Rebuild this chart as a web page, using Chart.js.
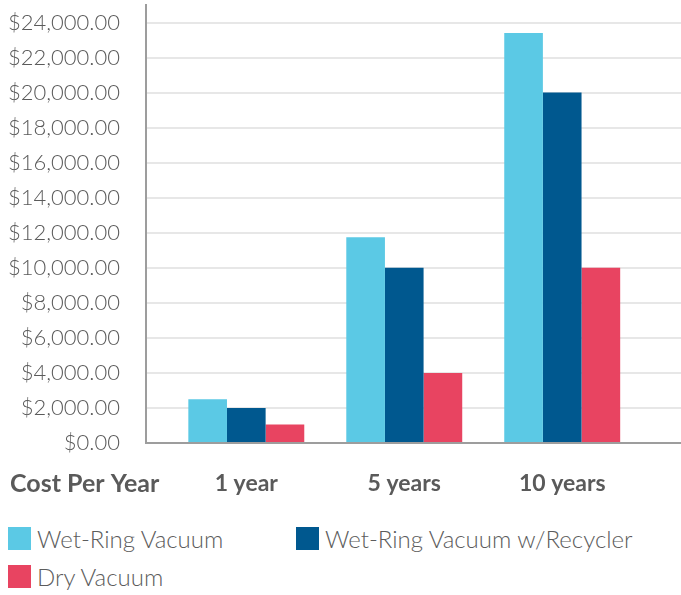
<!DOCTYPE html>
<html lang="en">
<head>
  <meta charset="UTF-8">
  <title>Cost Per Year</title>
  <style>
* {
  margin: 0;
  padding: 0;
  box-sizing: border-box;
}
body {
  width: 681px;
  height: 595px;
  background: #fff;
  font-family: Lato, "Open Sans", sans-serif;
  position: relative;
  overflow: hidden;
}
.chart-body {
  position: absolute;
  left: 0;
  top: 0;
  width: 681px;
  height: 510px;
}
.legend span.item {
  position: absolute;
  display: flex;
  align-items: flex-end;
  font-size: 24px;
  font-weight: 300;
  color: #5c5c5c;
  line-height: 23px;
  white-space: nowrap;
}
.legend i {
  display: inline-block;
  width: 23px;
  height: 23px;
  margin-right: 6px;
}
  </style>
</head>
<body>
  <div class="chart-body">
    <canvas id="myChart" width="681" height="510"></canvas>
  </div>
  <div class="legend" id="legend"></div>
  <script src="https://cdn.jsdelivr.net/npm/chart.js@4.4.0/dist/chart.umd.min.js"></script>
  <script>
    // data
    const categories = ['1 year', '5 years', '10 years'];
    const seriesNames = ['Wet-Ring Vacuum', 'Wet-Ring Vacuum w/Recycler', 'Dry Vacuum'];
    const wetRing = [2500, 11750, 23400];
    const wetRingRecycler = [2000, 10000, 20000];
    const dryVacuum = [1050, 4000, 10000];
    const seriesColors = ['#5bc9e5', '#00588f', '#e84461'];
    const yTicks = [0, 2000, 4000, 6000, 8000, 10000, 12000, 14000, 16000, 18000, 20000, 22000, 24000];

    const textColor = '#5a5a5a';
    const axisColor = '#9d9d9d';

    // "Cost Per Year" sits left of the category labels
    const rowTitle = {
      id: 'rowTitle',
      afterDraw(chart) {
        let c = chart.ctx;
        c.save();
        c.font = 'bold 25px Lato, "Open Sans", sans-serif';
        c.fillStyle = textColor;
        c.textAlign = 'left';
        c.textBaseline = 'alphabetic';
        c.fillText('Cost Per Year', 10, chart.chartArea.bottom + 49);
        c.restore();
      }
    };

    let ctx = document.getElementById('myChart').getContext('2d');
    let myChart = new Chart(ctx, {
      type: 'bar',
      data: {
        labels: categories,
        datasets: [
          { label: seriesNames[0], data: wetRing, backgroundColor: seriesColors[0] },
          { label: seriesNames[1], data: wetRingRecycler, backgroundColor: seriesColors[1] },
          { label: seriesNames[2], data: dryVacuum, backgroundColor: seriesColors[2] }
        ]
      },
      options: {
        responsive: false,
        animation: false,
        categoryPercentage: 0.734,
        barPercentage: 1,
        layout: { padding: { top: 5, right: 0, left: 0, bottom: 0 } },
        plugins: {
          legend: { display: false },
          tooltip: { enabled: false }
        },
        scales: {
          x: {
            grid: { display: false, drawTicks: false },
            border: { display: true, color: axisColor, width: 2 },
            ticks: {
              color: textColor,
              padding: 27,
              font: { family: 'Lato, "Open Sans", sans-serif', size: 23, weight: 'bold' }
            },
            // groups are not centred in the plot: shift the category range
            afterBuildTicks: scale => {
              scale._startValue = -0.635;
              scale._valueRange = 3.387;
            },
            afterFit: scale => {
              scale.height = 67;
            }
          },
          y: {
            min: 0,
            max: 25000,
            grid: { color: '#e7e7e7', lineWidth: 2, drawTicks: false },
            border: { display: true, color: axisColor, width: 2 },
            ticks: {
              padding: 26,
              color: textColor,
              font: { family: 'Lato, "Open Sans", sans-serif', size: 22, weight: 300 },
              callback: v => '$' + v.toLocaleString('en-US', { minimumFractionDigits: 2, maximumFractionDigits: 2 })
            },
            afterBuildTicks: scale => {
              scale.ticks = yTicks.map(v => ({ value: v }));
            },
            afterFit: scale => {
              scale.width = 146;
              scale.paddingTop = 0;
              scale.paddingBottom = 0;
            }
          }
        }
      },
      plugins: [rowTitle]
    });

    // legend in two rows like the original
    let legend = document.getElementById('legend');
    let legendPos = [[8, 527], [296, 527], [8, 565]];
    seriesNames.forEach((name, i) => {
      legend.insertAdjacentHTML('beforeend',
        `<span class="item" style="left:${legendPos[i][0]}px;top:${legendPos[i][1]}px"><i style="background:${seriesColors[i]}"></i>${name}</span>`);
    });
  </script>
</body>
</html>
